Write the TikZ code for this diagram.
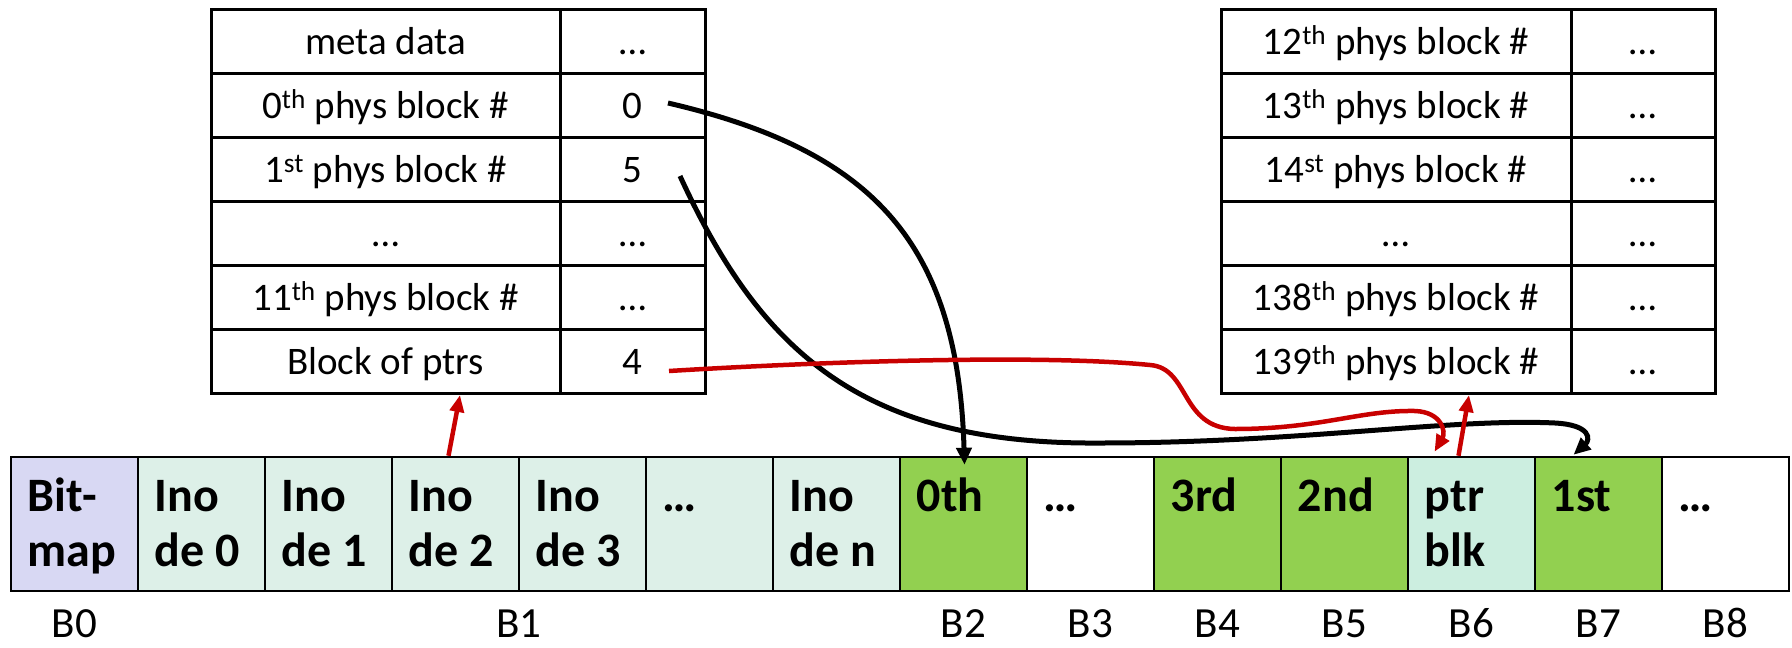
\documentclass[tikz,border=0pt]{standalone}
\usepackage{fontspec}
\setmainfont{Carlito}
\usetikzlibrary{arrows.meta,calc}
\definecolor{lav}{HTML}{D8D8F3}
\definecolor{mint}{HTML}{DDF0E8}
\definecolor{ptrc}{HTML}{CCEEE0}
\definecolor{grn}{HTML}{92D050}
\definecolor{redc}{HTML}{C80000}
\begin{document}
\begin{tikzpicture}[x=1pt,y=-1pt,
  tcell/.style={draw, line width=3pt, inner sep=0pt, minimum height=64pt, text height=26pt, text depth=0pt, font=\fontsize{39}{47}\selectfont},
  lcol/.style={tcell, minimum width=349pt},
  vcol/.style={tcell, minimum width=145pt},
  rlcol/.style={tcell, minimum width=350pt},
  rvcol/.style={tcell, minimum width=144pt},
  blk/.style={draw, line width=2.5pt, minimum width=127pt, minimum height=134pt, inner sep=0pt},
  btxt/.style={anchor=base west, inner sep=0pt, font=\fontsize{48}{56}\selectfont\bfseries},
  blab/.style={anchor=base, inner sep=0pt, text depth=0pt, font=\fontsize{43}{50}\selectfont},
  barrow/.style={line width=5pt, -{Triangle[length=17pt,width=15pt]}},
  rarrow/.style={line width=4.5pt, draw=redc, -{Triangle[length=17pt,width=14pt]}, redc},
]
\useasboundingbox (0,0) rectangle (1792,648);

% left table
\foreach \i/\t/\v in {0/meta data/…,
  1/0\textsuperscript{th} phys block \#/0,
  2/1\textsuperscript{st} phys block \#/5,
  3/…/…,
  4/11\textsuperscript{th} phys block \#/…,
  5/Block of ptrs/4}{
  \node[lcol] (L\i) at ({385.5},{41+64*\i}) {\t};
  \node[vcol] (V\i) at ({632.5},{41+64*\i}) {\v};
}
% right table
\foreach \i/\t in {0/12\textsuperscript{th} phys block \#,
  1/13\textsuperscript{th} phys block \#,
  2/14\textsuperscript{st} phys block \#,
  3/…,
  4/138\textsuperscript{th} phys block \#,
  5/139\textsuperscript{th} phys block \#}{
  \node[rlcol] (R\i) at ({1396},{41+64*\i}) {\t};
  \node[rvcol] (W\i) at ({1643},{41+64*\i}) {…};
}

% block row
\foreach \i/\c in {0/lav,1/mint,2/mint,3/mint,4/mint,5/mint,6/mint,7/grn,8/white,9/grn,10/grn,11/ptrc,12/grn,13/white}{
  \node[blk, fill=\c] (c\i) at ({74.5+127*\i},524) {};
}
\foreach \i/\a/\b in {0/Bit-/map,1/Ino/de 0,2/Ino/de 1,3/Ino/de 2,4/Ino/de 3,6/Ino/de n,11/ptr/blk}{
  \node[btxt] (ta\i) at ($(c\i.north west)+(18,56)$) {\a};
  \node[btxt] (tb\i) at ($(c\i.north west)+(18,111)$) {\b};
}
\foreach \i/\a in {5/…,7/0th,8/…,9/3rd,10/2nd,12/1st,13/…}{
  \node[btxt] (ta\i) at ($(c\i.north west)+(18,56)$) {\a};
}

% labels
\node[blab] (B0) at (74.5,637) {B0};
\node[blab] (B1) at (519,637) {B1};
\foreach \i/\n in {7/2,8/3,9/4,10/5,11/6,12/7,13/8}{
  \node[blab] (B\n) at ({74.5+127*\i},637) {B\n};
}

% connectors
\coordinate (s0) at (668,103);
\coordinate (s1) at (680,176);
\coordinate (s4) at (669,371);
\coordinate (lt) at (460,395);
\coordinate (rt) at (1469,395);

\draw[barrow] (s0) .. controls (870,150) and (958,240) .. ($(c7.north)+(1,9)$);
\draw[barrow] (s1) .. controls (760,350) and (860,445) .. (1100,443)
  .. controls (1300,443) and (1450,418) .. (1555,423)
  .. controls (1592,425) and (1590,440) .. ($(c12.north)+(-25,-1)$);
\draw[rarrow] (s4) .. controls (850,360) and (1050,355) .. (1150,365)
  .. controls (1190,368) and (1180,428) .. (1235,429)
  .. controls (1320,429) and (1360,410) .. (1415,411)
  .. controls (1442,412) and (1446,432) .. ($(c11.north)+(-37,-4)$);
\draw[rarrow] ($(c11.north)+(-13,0)$) -- (rt);
\draw[rarrow] ($(c3.north)+(-7,0)$) -- (lt);
\end{tikzpicture}
\end{document}
